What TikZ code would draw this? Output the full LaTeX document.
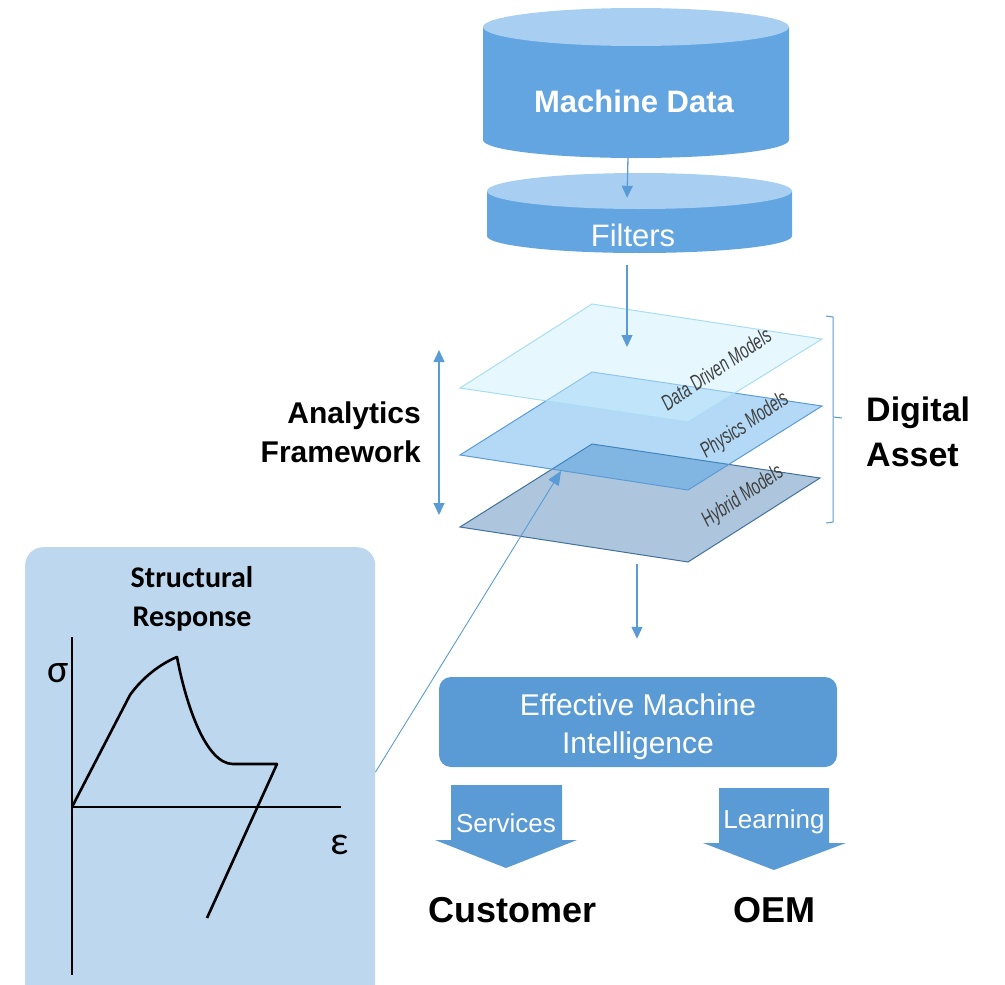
\documentclass[tikz,border=0pt]{standalone}
\usepackage{fontspec}
\setmainfont{Liberation Sans}
\newfontfamily\calib{Carlito}
\newfontfamily\narrowsans[FakeStretch=0.66]{Liberation Sans}
\usetikzlibrary{arrows.meta,positioning}
\definecolor{dbbody}{HTML}{63A5E0}
\definecolor{dblid}{HTML}{A8CFF2}
\definecolor{flow}{HTML}{5B9BD5}
\definecolor{ddmfill}{HTML}{CDF0FD}
\definecolor{ddmline}{HTML}{A9DDF4}
\definecolor{phyfill}{HTML}{43A0EB}
\definecolor{hybfill}{HTML}{ADC6DD}
\definecolor{hybline}{HTML}{41719C}
\definecolor{panelbg}{HTML}{BDD7EE}
\definecolor{lblgrey}{HTML}{404040}
\tikzset{
  cylbody/.style={fill=dbbody},
  cyllid/.style={fill=dblid},
  fl/.style={-{Triangle[length=12pt,width=11pt]}, draw=flow, line width=1.3pt},
  fl2/.style={{Triangle[length=12pt,width=11pt]}-{Triangle[length=12pt,width=11pt]}, draw=flow, line width=1.3pt},
  flthin/.style={-{Triangle[length=14pt,width=12pt]}, draw=flow, line width=0.9pt},
  ddm/.style={fill=ddmfill, fill opacity=0.5, draw=ddmline, line width=1pt},
  phy/.style={fill=phyfill, fill opacity=0.4, draw=flow, line width=1pt},
  hyb/.style={fill=hybfill, draw=hybline, line width=1pt},
  plbl/.style={font=\fontsize{22}{24}\selectfont\narrowsans\itshape, text=lblgrey, rotate=34, inner sep=0pt},
  bigbold/.style={font=\fontsize{30}{39}\selectfont\bfseries, text=black, inner sep=0pt},
  whitetxt/.style={text=white, inner sep=0pt},
  emi/.style={rectangle, rounded corners=12pt, fill=flow, text=white, align=center,
              minimum width=398pt, minimum height=90pt, font=\fontsize{30}{38}\selectfont},
  blockarrow/.style={fill=flow},
  arrowtxt/.style={text=white, font=\fontsize{26}{30}\selectfont, inner sep=0pt},
  panel/.style={rectangle, rounded corners=18pt, fill=panelbg, minimum width=350pt,
                minimum height=470pt, anchor=north west, inner sep=0pt},
  curve/.style={draw=black, line width=2.6pt, line join=round},
  greek/.style={font=\fontsize{40}{42}\selectfont\calib, inner sep=0pt}
}

\begin{document}
\begin{tikzpicture}[x=1pt,y=-1pt]
  \clip (0,0) rectangle (1005,985);

  % machine data cylinder
  \fill[cylbody] (483,27) -- (483,140) arc[start angle=180, end angle=0, x radius=153, y radius=18] -- (789,27) -- cycle;
  \fill[cyllid] (636,27) ellipse[x radius=153, y radius=19];
  \node[whitetxt, font=\fontsize{31}{36}\selectfont\bfseries, minimum height=113pt] (mdata) at (634,101.5) {Machine Data};

  % filters cylinder
  \fill[cylbody] (487,191) -- (487,236) arc[start angle=180, end angle=0, x radius=152.5, y radius=17] -- (792,191) -- cycle;
  \fill[cyllid] (639.5,191) ellipse[x radius=152.5, y radius=18];
  \node[whitetxt, font=\fontsize{31}{36}\selectfont, minimum height=38pt] (filters) at (633,235) {Filters};

  \draw[fl] ([xshift=-6pt]mdata.south) -- ([xshift=-6pt, yshift=18pt]filters.north);

  % stacked model planes
  \filldraw[hyb] (460,527) -- (592,444) -- (820,478) -- (688,562) -- cycle;
  \filldraw[phy] (460,455) -- (592,372) -- (822,406) -- (688,490) -- cycle;
  \filldraw[ddm] (460,388) -- (592,304) -- (822,339) -- (688,422) -- cycle;
  \node[plbl] (ddmlbl) at (716,369) {Data Driven Models};
  \node[plbl] (phylbl) at (745,426) {Physics Models};
  \node[plbl] (hyblbl) at (743,497) {Hybrid Models};
  \coordinate (ddmin) at (627,347);
  \coordinate (hybin) at (561,471);
  \coordinate (stackout) at (637,564);

  \draw[fl] ([xshift=-6pt, yshift=-11pt]filters.south) -- (ddmin);

  % analytics framework
  \node[bigbold, align=right, anchor=east] (af) at (421,432) {Analytics\\Framework};
  \coordinate (aftop) at (439,350);
  \coordinate (afbot) at (439,515);
  \draw[fl2] (afbot) -- (aftop);

  % digital asset bracket
  \draw[flow, line width=1pt] (826,316) -- (833,317) -- (833,417) -- (842,418);
  \draw[flow, line width=1pt] (833,418) -- (833,522) -- (826,523);
  \node[bigbold, font=\fontsize{34}{45}\selectfont\bfseries, align=left, anchor=west] (da) at (866,432) {Digital\\Asset};

  % machine intelligence
  \node[emi] (emi) at (638,722) {\raisebox{-5pt}[\height][\depth]{Effective Machine}\\\raisebox{-5pt}[\height][\depth]{Intelligence}};
  \draw[fl] (stackout) -- ([xshift=-1pt, yshift=38pt]emi.north);

  \fill[blockarrow] (451,785) -- (562,785) -- (562,840) -- (577,840) -- (506,868) -- (435,840) -- (451,840) -- cycle;
  \node[arrowtxt] (svc) at (506,823) {Services};
  \fill[blockarrow] (719,788) -- (829,788) -- (829,843) -- (846,843) -- (774,870) -- (703,843) -- (719,843) -- cycle;
  \node[arrowtxt] (lrn) at (774,822) {Learning};
  \node[bigbold, font=\fontsize{36}{40}\selectfont\bfseries] (cust) at (513,910) {Customer};
  \node[bigbold, font=\fontsize{36}{40}\selectfont\bfseries] (oem) at (774,910) {OEM};

  % structural response panel
  \node[panel] (panel) at (25,547) {};
  \node[bigbold, font=\fontsize{30}{39}\selectfont\calib\bfseries, align=center] (srtitle) at (192,599) {Structural\\Response};
  \draw[curve] (72,637) -- (72,975);
  \draw[curve] (72,807) -- (341,807);
  \draw[curve] (72,807) -- (130,695) .. controls (142,678) and (160,664) .. (177,657)
    .. controls (186,705) and (206,764) .. (233,764) -- (277,764) -- (207,918);
  \node[greek] (sig) at (58,673) {σ};
  \node[greek] (eps) at (340,845) {ε};

  \draw[flthin] ([yshift=10pt]panel.east) -- (hybin);
\end{tikzpicture}
\end{document}
